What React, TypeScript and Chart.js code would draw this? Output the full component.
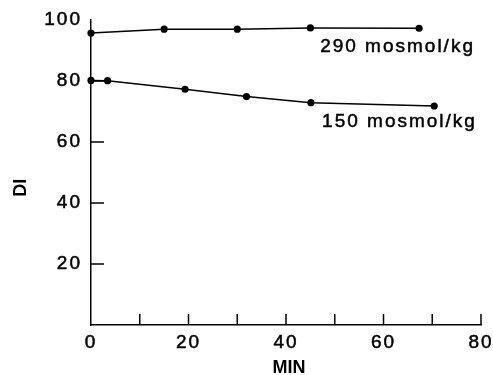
import React, { useEffect, useRef } from "react";
import { Chart, registerables } from "chart.js";

Chart.register(...registerables);

const minutes290 = [0, 15, 30, 45, 67.3];
const di290 = [95.7, 97.0, 97.0, 97.4, 97.3];
const minutes150 = [0, 3.4, 19.3, 31.9, 45.1, 70.4];
const di150 = [80.2, 80.1, 77.3, 74.9, 72.9, 71.8];

const xLabels = [0, 20, 40, 60, 80];
const yLabels = [20, 40, 60, 80, 100];

const seriesNames = ["290 mosmol/kg", "150 mosmol/kg"];
// label anchor in data units (x minutes, y DI)
const labelAnchorX = [47, 47.4];
const labelAnchorY = [91.2, 66.6];

const xTitle = "MIN";
const yTitle = "DI";

const FONT = "'Liberation Sans', Arial, sans-serif";

export default function App() {
  const ref = useRef<HTMLCanvasElement | null>(null);

  useEffect(() => {
    const canvas = ref.current!;
    const toPts = (xs: number[], ys: number[]) => xs.map((x, i) => ({ x, y: ys[i] }));

    const spacingPlugin = {
      id: "spacing",
      beforeInit(chart: any) {
        chart.ctx.letterSpacing = "2px";
      },
      beforeUpdate(chart: any) {
        chart.ctx.letterSpacing = "2px";
      },
      beforeDraw(chart: any) {
        chart.ctx.letterSpacing = "2px";
      },
    };

    const decor = {
      id: "decor",
      afterDraw(chart: any) {
        const ctx = chart.ctx;
        const xs = chart.scales.x;
        const ys = chart.scales.y;
        const { left, bottom, right } = chart.chartArea;
        ctx.save();
        ctx.strokeStyle = "#000";
        ctx.lineWidth = 1.5;
        // inward x ticks
        for (let v = 10; v <= 80; v += 10) {
          const px = xs.getPixelForValue(v);
          ctx.beginPath();
          ctx.moveTo(px, bottom);
          ctx.lineTo(px, bottom - 11);
          ctx.stroke();
        }
        // inward y ticks
        for (const v of [20, 40, 60, 80]) {
          const py = ys.getPixelForValue(v);
          ctx.beginPath();
          ctx.moveTo(left, py);
          ctx.lineTo(left + 13, py);
          ctx.stroke();
        }
        // series labels
        ctx.fillStyle = "#000";
        ctx.letterSpacing = "2px";
        ctx.font = `19px ${FONT}`;
        ctx.textAlign = "left";
        ctx.textBaseline = "middle";
        ctx.lineWidth = 0.5;
        seriesNames.forEach((name, i) => {
          const px = xs.getPixelForValue(labelAnchorX[i]);
          const py = ys.getPixelForValue(labelAnchorY[i]);
          ctx.strokeText(name, px, py);
          ctx.fillText(name, px, py);
        });
        // axis titles
        ctx.letterSpacing = "0px";
        ctx.font = `bold 18px ${FONT}`;
        ctx.textAlign = "center";
        ctx.fillText(xTitle, (left + right) / 2 + 3, bottom + 43);
        ctx.save();
        ctx.translate(21, ys.getPixelForValue(45));
        ctx.rotate(-Math.PI / 2);
        ctx.fillText(yTitle, 0, 0);
        ctx.restore();
        ctx.restore();
      },
    };

    const ds = (xs: number[], ys: number[]) => ({
      data: toPts(xs, ys),
      borderColor: "#000",
      backgroundColor: "#000",
      borderWidth: 1.5,
      pointRadius: 3.6,
      pointBackgroundColor: "#000",
      pointBorderWidth: 0,
      clip: false as any,
      tension: 0,
    });

    const chart = new Chart(canvas, {
      type: "scatter",
      data: {
        datasets: [
          { ...ds(minutes290, di290), showLine: true, label: seriesNames[0] },
          { ...ds(minutes150, di150), showLine: true, label: seriesNames[1] },
        ],
      },
      plugins: [spacingPlugin, decor],
      options: {
        animation: false,
        responsive: false,
        devicePixelRatio: 1,
        layout: { padding: { left: 0, right: 12, top: 20, bottom: 0 } },
        plugins: { legend: { display: false }, tooltip: { enabled: false } },
        scales: {
          x: {
            type: "linear",
            min: 0,
            max: 80,
            afterFit: (s: any) => {
              s.height = 50;
              s.paddingLeft = 0;
              s.paddingRight = 0;
            },
            ticks: {
              stepSize: 10,
              color: "#000",
              font: { family: FONT, size: 19 },
              padding: 6,
              maxRotation: 0,
              autoSkip: false,
              textStrokeColor: "#000",
              textStrokeWidth: 0.5,
              callback: (v: any) => (xLabels.includes(Number(v)) ? String(v) : ""),
            },
            grid: { display: true, drawOnChartArea: false, tickLength: 0 },
            border: { display: true, color: "#000", width: 1.5 },
          },
          y: {
            type: "linear",
            min: 0,
            max: 100,
            afterFit: (s: any) => {
              s.width = 91;
              s.paddingTop = 0;
              s.paddingBottom = 0;
            },
            ticks: {
              stepSize: 20,
              color: "#000",
              font: { family: FONT, size: 19 },
              padding: 9,
              textStrokeColor: "#000",
              textStrokeWidth: 0.5,
              callback: (v: any) => (yLabels.includes(Number(v)) ? String(v) : ""),
            },
            grid: { display: true, drawOnChartArea: false, tickLength: 0 },
            border: { display: true, color: "#000", width: 1.5 },
          },
        },
      },
    });
    return () => chart.destroy();
  }, []);

  return (
    <div style={{ position: "fixed", left: 0, top: 0, width: 493, height: 375, background: "#fff" }}>
      <canvas ref={ref} width={493} height={375} style={{ width: 493, height: 375, display: "block" }} />
    </div>
  );
}
